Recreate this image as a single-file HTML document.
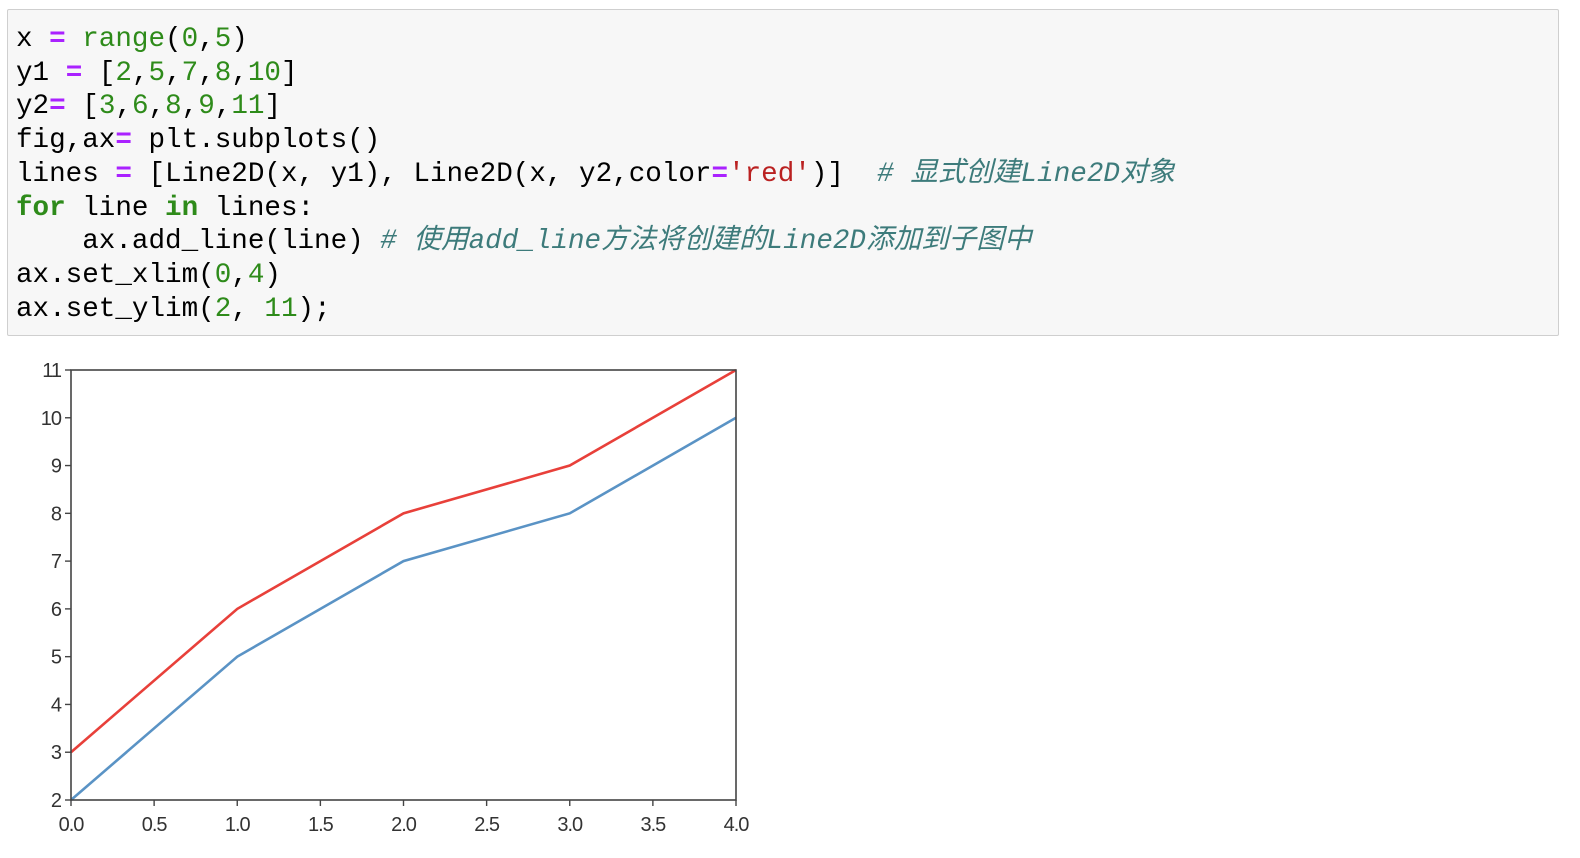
<!DOCTYPE html>
<html><head><meta charset="utf-8"><style>
body{margin:0;width:1580px;height:858px;background:#fff;position:relative;overflow:hidden}
#cell{position:absolute;left:7px;top:9px;width:1550px;height:325px;background:#f7f7f7;border:1px solid #cfcfcf;border-radius:2px}
pre{margin:0;position:absolute;left:8px;top:13px;font-family:"Liberation Mono","DejaVu Sans Mono","Noto Sans CJK SC",monospace;font-size:27.6px;line-height:33.7px;color:#000}
.o{color:#aa22ff;font-weight:bold}.n{color:#2e8b1a}.k{color:#2e8b1a;font-weight:bold}.s{color:#ba2121}
.c{color:#3d7b7b;font-style:italic;font-family:"Liberation Mono","Noto Sans CJK SC",monospace}
svg{position:absolute;left:0;top:0}
</style></head><body>
<div id="cell"><pre>x <span class="o">=</span> <span class="n">range</span>(<span class="n">0</span>,<span class="n">5</span>)
y1 <span class="o">=</span> [<span class="n">2</span>,<span class="n">5</span>,<span class="n">7</span>,<span class="n">8</span>,<span class="n">10</span>]
y2<span class="o">=</span> [<span class="n">3</span>,<span class="n">6</span>,<span class="n">8</span>,<span class="n">9</span>,<span class="n">11</span>]
fig,ax<span class="o">=</span> plt.subplots()
lines <span class="o">=</span> [Line2D(x, y1), Line2D(x, y2,color<span class="o">=</span><span class="s">'red'</span>)]  <span class="c"># 显式创建Line2D对象</span>
<span class="k">for</span> line <span class="k">in</span> lines:
    ax.add_line(line) <span class="c"># 使用add_line方法将创建的Line2D添加到子图中</span>
ax.set_xlim(<span class="n">0</span>,<span class="n">4</span>)
ax.set_ylim(<span class="n">2</span>, <span class="n">11</span>);</pre></div>
<svg id="chart" width="1580" height="858"></svg>
<script>
const xs=[0,1,2,3,4];
const y1=[2,5,7,8,10];
const y2=[3,6,8,9,11];
const xTicks=[0,0.5,1,1.5,2,2.5,3,3.5,4];
const xTickLabels=["0.0","0.5","1.0","1.5","2.0","2.5","3.0","3.5","4.0"];
const yTicks=[2,3,4,5,6,7,8,9,10,11];
const L=71,R=736,T=370,B=800;
const sx=v=>L+(v-0)/(4-0)*(R-L);
const sy=v=>B-(v-2)/(11-2)*(B-T);
const svg=document.getElementById('chart');
const NS='http://www.w3.org/2000/svg';
function mk(t,a){const e=document.createElementNS(NS,t);for(const k in a)e.setAttribute(k,a[k]);svg.appendChild(e);return e;}
function series(ys,color,name){
  const p=mk('polyline',{points:xs.map((x,i)=>sx(x)+','+sy(ys[i])).join(' '),fill:'none',stroke:color,'stroke-width':2.6});
  
  
}
series(y1,'#5a93c5','line-y1');
series(y2,'#e8403a','line-y2');
const fr=mk('rect',{x:L,y:T,width:R-L,height:B-T,fill:'none',stroke:'#444','stroke-width':1.6});


xTicks.forEach((v,i)=>{
  mk('line',{x1:sx(v),x2:sx(v),y1:B,y2:B+6,stroke:'#444','stroke-width':1.4});
  const t=mk('text',{x:sx(v),y:B+31,'text-anchor':'middle','font-family':'Liberation Sans, sans-serif','font-size':20,fill:'#333','letter-spacing':'-1'});
  t.textContent=xTickLabels[i];
  
  
});
yTicks.forEach(v=>{
  mk('line',{x1:L-6,x2:L,y1:sy(v),y2:sy(v),stroke:'#444','stroke-width':1.4});
  const t=mk('text',{x:L-10,y:sy(v)+7,'text-anchor':'end','font-family':'Liberation Sans, sans-serif','font-size':20,fill:'#333','letter-spacing':'-1'});
  t.textContent=String(v);
  
  
});
</script>
</body></html>
